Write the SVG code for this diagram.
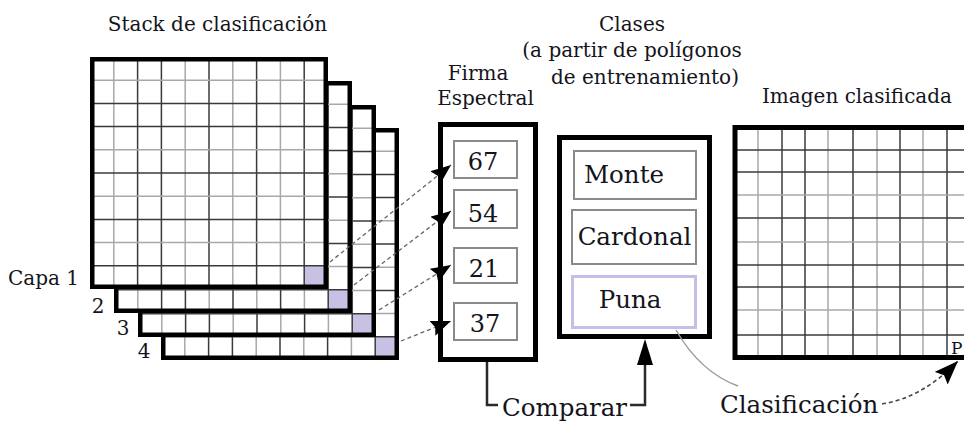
<svg xmlns="http://www.w3.org/2000/svg" xmlns:xlink="http://www.w3.org/1999/xlink" width="964" height="421" viewBox="0 0 964 421">
<style>
.t{font-family:"DejaVu Serif","Liberation Serif",serif;fill:#141420}
.h{font-size:20px}
.n{font-size:24px}
.c{font-size:24.5px}
.gd{stroke:#3a3a3a;stroke-width:1.5}
.gl{stroke:#a8a8a8;stroke-width:1.5}
.thick{fill:none;stroke:#000;stroke-width:5}
.ib{fill:#fff;stroke:#8a8a8a;stroke-width:2}
.dash{fill:none;stroke:#666;stroke-width:1.3;stroke-dasharray:4 3}
.br{fill:none;stroke:#2a2a2a;stroke-width:2.5}
</style>
<defs>
<marker id="ah" viewBox="0 0 20 16" refX="20" refY="8" markerWidth="20" markerHeight="16" markerUnits="userSpaceOnUse" orient="auto">
<path d="M0,0 L20,8 L0,16 L3,8 z" fill="#000"/>
</marker>
<marker id="ah2" viewBox="0 0 24 18" refX="24" refY="9" markerWidth="24" markerHeight="18" markerUnits="userSpaceOnUse" orient="auto">
<path d="M0,0 L24,9 L0,18 L4,9 z" fill="#000"/>
</marker>
<g id="layer">
<rect x="0" y="0" width="238" height="232" fill="#fff"/>
<rect x="214.2" y="208.8" width="23.8" height="23.2" fill="#c9c1e3"/>
<g>
<line class="gl" x1="23.8" y1="0" x2="23.8" y2="232"/>
<line class="gd" x1="47.6" y1="0" x2="47.6" y2="232"/>
<line class="gd" x1="71.4" y1="0" x2="71.4" y2="232"/>
<line class="gl" x1="95.2" y1="0" x2="95.2" y2="232"/>
<line class="gd" x1="119" y1="0" x2="119" y2="232"/>
<line class="gl" x1="142.8" y1="0" x2="142.8" y2="232"/>
<line class="gd" x1="166.6" y1="0" x2="166.6" y2="232"/>
<line class="gl" x1="190.4" y1="0" x2="190.4" y2="232"/>
<line class="gd" x1="214.2" y1="0" x2="214.2" y2="232"/>
<line class="gl" x1="0" y1="23.2" x2="238" y2="23.2"/>
<line class="gd" x1="0" y1="46.4" x2="238" y2="46.4"/>
<line class="gd" x1="0" y1="69.6" x2="238" y2="69.6"/>
<line class="gl" x1="0" y1="92.8" x2="238" y2="92.8"/>
<line class="gd" x1="0" y1="116" x2="238" y2="116"/>
<line class="gl" x1="0" y1="139.2" x2="238" y2="139.2"/>
<line class="gd" x1="0" y1="162.4" x2="238" y2="162.4"/>
<line class="gl" x1="0" y1="185.6" x2="238" y2="185.6"/>
<line class="gd" x1="0" y1="208.8" x2="238" y2="208.8"/>
</g>
<rect x="2.25" y="2.25" width="233.5" height="227.5" fill="none" stroke="#000" stroke-width="4.5"/>
</g>
</defs>

<text class="t h" x="217.5" y="31" text-anchor="middle">Stack de clasificación</text>

<g id="layer4"><use xlink:href="#layer" x="161" y="128"/><text class="t h" x="144" y="358" text-anchor="middle">4</text></g>
<g id="layer3"><use xlink:href="#layer" x="138" y="105"/><text class="t h" x="123" y="335" text-anchor="middle">3</text></g>
<g id="layer2"><use xlink:href="#layer" x="114" y="81"/><text class="t h" x="98" y="313" text-anchor="middle">2</text></g>
<g id="layer1"><use xlink:href="#layer" x="90" y="57"/><text class="t h" x="8" y="285">Capa 1</text></g>

<g id="firma">
<text class="t h" x="478" y="80" text-anchor="middle">Firma</text>
<text class="t h" x="485.5" y="105" text-anchor="middle">Espectral</text>
<rect x="440.5" y="124.5" width="95" height="235" fill="#fff" stroke="#000" stroke-width="5"/>
<rect class="ib" x="454" y="141" width="63" height="37"/>
<rect class="ib" x="454" y="190" width="63" height="38"/>
<rect class="ib" x="454" y="248" width="63" height="35"/>
<rect class="ib" x="454" y="303" width="63" height="37"/>
<text class="t n" x="483" y="170" text-anchor="middle">67</text>
<text class="t n" x="483" y="222" text-anchor="middle">54</text>
<text class="t n" x="484" y="277" text-anchor="middle">21</text>
<text class="t n" x="485" y="332" text-anchor="middle">37</text>
</g>

<g id="clases">
<text class="t h" x="632" y="31" text-anchor="middle">Clases</text>
<text class="t h" x="632" y="57" text-anchor="middle">(a partir de polígonos</text>
<text class="t h" x="645" y="84" text-anchor="middle">de entrenamiento)</text>
<rect class="thick" x="559.5" y="137.5" width="150" height="199"/>
<rect class="ib" x="574" y="151" width="122" height="48"/>
<rect class="ib" x="572" y="210" width="124" height="54"/>
<rect x="572.5" y="276.5" width="123" height="51" fill="#fff" stroke="#c6bee6" stroke-width="3"/>
<text class="t c" x="624" y="183" text-anchor="middle">Monte</text>
<text class="t c" x="634.5" y="245" text-anchor="middle">Cardonal</text>
<text class="t c" x="630" y="308" text-anchor="middle">Puna</text>
</g>

<g id="imagen">
<text class="t h" x="857" y="103" text-anchor="middle">Imagen clasificada</text>
<rect x="735" y="127.5" width="260" height="230" fill="#fff"/>
<g>
<line class="gl" x1="758" y1="127" x2="758" y2="358"/>
<line class="gd" x1="782" y1="127" x2="782" y2="358"/>
<line class="gd" x1="805" y1="127" x2="805" y2="358"/>
<line class="gl" x1="828" y1="127" x2="828" y2="358"/>
<line class="gd" x1="853" y1="127" x2="853" y2="358"/>
<line class="gl" x1="877" y1="127" x2="877" y2="358"/>
<line class="gd" x1="900" y1="127" x2="900" y2="358"/>
<line class="gl" x1="923" y1="127" x2="923" y2="358"/>
<line class="gd" x1="947" y1="127" x2="947" y2="358"/>
<line class="gd" x1="735" y1="150" x2="964" y2="150"/>
<line class="gd" x1="735" y1="172" x2="964" y2="172"/>
<line class="gl" x1="735" y1="195" x2="964" y2="195"/>
<line class="gd" x1="735" y1="218" x2="964" y2="218"/>
<line class="gl" x1="735" y1="242" x2="964" y2="242"/>
<line class="gd" x1="735" y1="265" x2="964" y2="265"/>
<line class="gd" x1="735" y1="287" x2="964" y2="287"/>
<line class="gl" x1="735" y1="310" x2="964" y2="310"/>
<line class="gd" x1="735" y1="335" x2="964" y2="335"/>
</g>
<rect class="thick" x="735" y="127.5" width="260" height="230"/>
<rect x="949" y="337" width="20" height="18" fill="#fff"/>
<text class="t" style="font-size:17px" x="951" y="354">P</text>
</g>

<g id="connectors">
<line class="dash" x1="330" y1="262" x2="451" y2="165" marker-end="url(#ah)"/>
<line class="dash" x1="354" y1="285" x2="451" y2="211" marker-end="url(#ah)"/>
<line class="dash" x1="379" y1="310" x2="451" y2="265" marker-end="url(#ah)"/>
<line class="dash" x1="401" y1="341" x2="451" y2="321" marker-end="url(#ah)"/>
<path class="br" d="M487 362 V405 H498"/>
<path class="br" d="M630 405 H645 V362"/>
<polygon points="645,339 637,365 653,365" fill="#000"/>
<path d="M676 330 Q700 372 738 386" fill="none" stroke="#999" stroke-width="1.4"/>
<path class="dash" d="M882 404 Q922 398 958 361" marker-end="url(#ah2)" style="stroke:#444;stroke-width:1.6"/>
<text class="t c" x="502" y="416">Comparar</text>
<text class="t c" x="720" y="413">Clasificación</text>
</g>
</svg>
